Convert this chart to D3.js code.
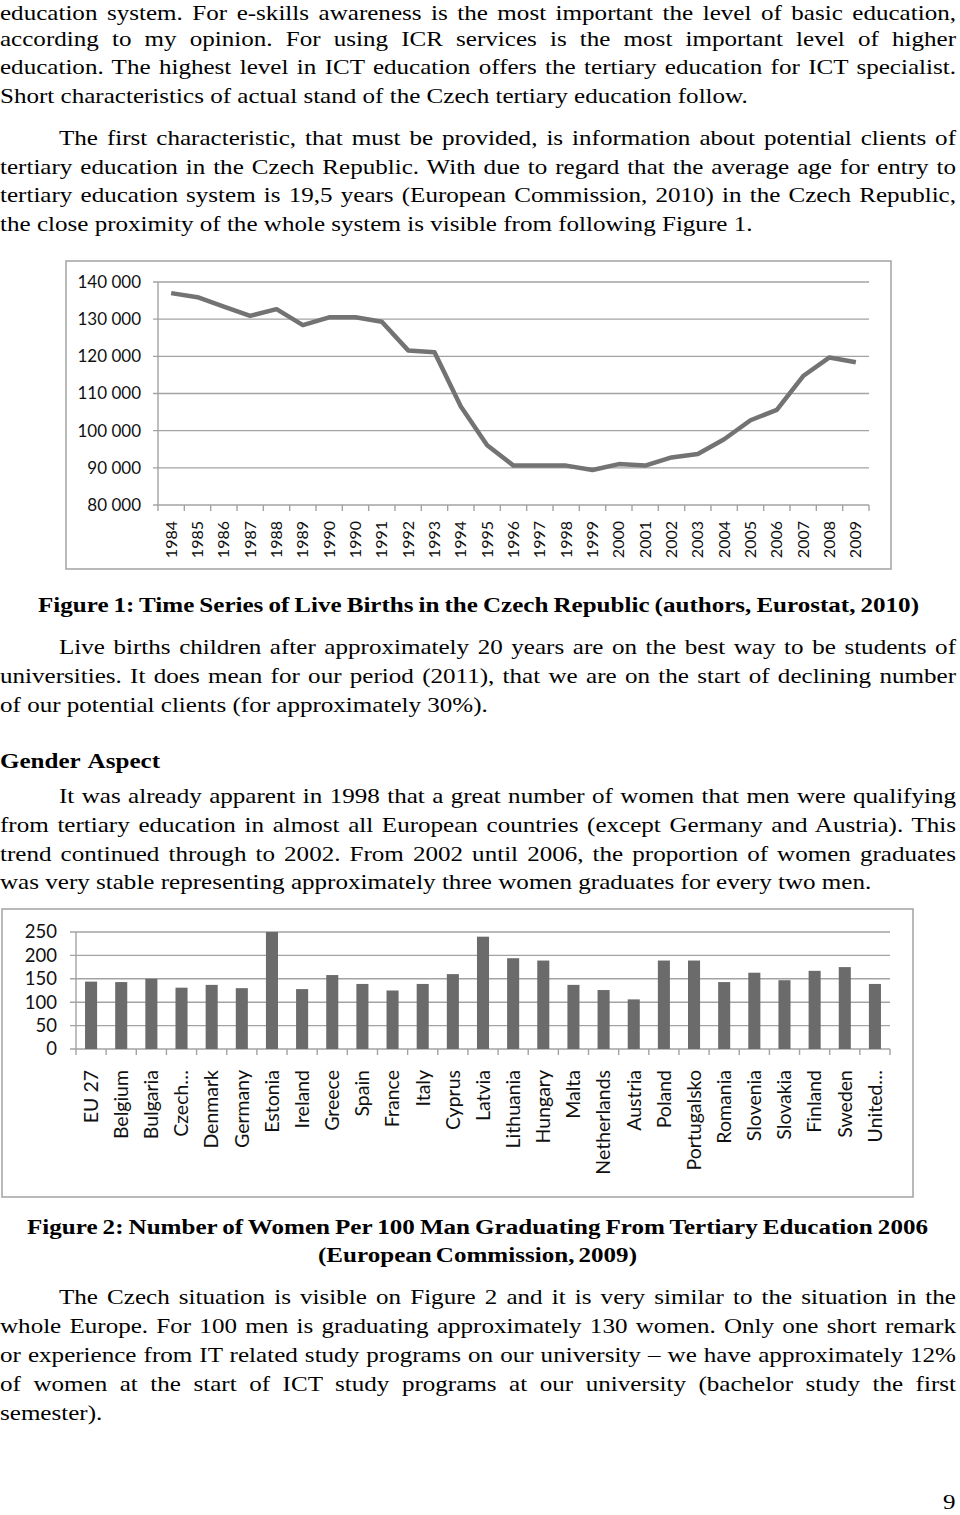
<!DOCTYPE html>
<html>
<head>
<meta charset="utf-8">
<script src="https://cdn.jsdelivr.net/npm/d3@7"></script>
<style>
html,body{margin:0;padding:0;background:#fff;}
svg{display:block;}
</style>
</head>
<body>
<script>
// ---------- DATA ----------
const years = ["1984","1985","1986","1987","1988","1989","1990","1990","1991","1992","1993","1994","1995","1996","1997","1998","1999","2000","2001","2002","2003","2004","2005","2006","2007","2008","2009"];
const births = [137000,135900,133400,130900,132700,128400,130500,130500,129300,121600,121100,106500,96100,90600,90600,90600,89400,91000,90600,92800,93700,97700,102800,105600,114700,119700,118400];
const birthTicks = [80000,90000,100000,110000,120000,130000,140000];

const countries = ["EU 27","Belgium","Bulgaria","Czech…","Denmark","Germany","Estonia","Ireland","Greece","Spain","France","Italy","Cyprus","Latvia","Lithuania","Hungary","Malta","Netherlands","Austria","Poland","Portugalsko","Romania","Slovenia","Slovakia","Finland","Sweden","United…"];
const women = [144,143,150,131,137,130,250,128,158,139,125,139,160,240,194,189,137,126,106,189,189,143,163,147,167,175,139];
const womenTicks = [0,50,100,150,200,250];

// ---------- PAGE ----------
const svg = d3.select("body").append("svg").attr("width",960).attr("height",1515);
svg.append("rect").attr("width",960).attr("height",1515).attr("fill","#fff");

// ---------- TEXT ----------
const FS = 22;
const lines = [
 {t:"education system. For e-skills awareness is the most important the level of basic education,", x0:0, x1:956, y:20},
 {t:"according to my opinion. For using ICR services is the most important level of higher", x0:0, x1:956, y:46},
 {t:"education. The highest level in ICT education offers the tertiary education for ICT specialist.", x0:0, x1:956, y:74},
 {t:"Short characteristics of actual stand of the Czech tertiary education follow.", x0:0, x1:null, y:102.5},
 {t:"The first characteristic, that must be provided, is information about potential clients of", x0:59, x1:956, y:144.5},
 {t:"tertiary education in the Czech Republic. With due to regard that the average age for entry to", x0:0, x1:956, y:173.5},
 {t:"tertiary education system is 19,5 years (European Commission, 2010) in the Czech Republic,", x0:0, x1:956, y:202},
 {t:"the close proximity of the whole system is visible from following Figure 1.", x0:0, x1:null, y:231},
 {t:"Figure 1: Time Series of Live Births in the Czech Republic (authors, Eurostat, 2010)", x0:38, x1:919, y:612, bold:true},
 {t:"Live births children after approximately 20 years are on the best way to be students of", x0:59, x1:956, y:654},
 {t:"universities. It does mean for our period (2011), that we are on the start of declining number", x0:0, x1:956, y:683},
 {t:"of our potential clients (for approximately 30%).", x0:0, x1:null, y:712},
 {t:"Gender Aspect", x0:0, x1:160, y:768, bold:true},
 {t:"It was already apparent in 1998 that a great number of women that men were qualifying", x0:59, x1:956, y:803},
 {t:"from tertiary education in almost all European countries (except Germany and Austria). This", x0:0, x1:956, y:832},
 {t:"trend continued through to 2002. From 2002 until 2006, the proportion of women graduates", x0:0, x1:956, y:861},
 {t:"was very stable representing approximately three women graduates for every two men.", x0:0, x1:null, y:889},
 {t:"Figure 2: Number of Women Per 100 Man Graduating From Tertiary Education 2006", x0:27, x1:928, y:1234, bold:true},
 {t:"(European Commission, 2009)", x0:318, x1:637, y:1262, bold:true},
 {t:"The Czech situation is visible on Figure 2 and it is very similar to the situation in the", x0:59, x1:956, y:1304},
 {t:"whole Europe. For 100 men is graduating approximately 130 women. Only one short remark", x0:0, x1:956, y:1333},
 {t:"or experience from IT related study programs on our university – we have approximately 12%", x0:0, x1:956, y:1362},
 {t:"of women at the start of ICT study programs at our university (bachelor study the first", x0:0, x1:956, y:1391},
 {t:"semester).", x0:0, x1:null, y:1420},
 {t:"9", x0:943, x1:null, y:1509}
];

const serifFam = '"Liberation Serif", "Times New Roman", serif';
const textG = svg.append("g")
  .style("font-family",serifFam).style("font-size",FS+"px").attr("fill","#000");
const probe = textG.append("text").text(lines[3].t);
const sx = 748 / probe.node().getComputedTextLength();
probe.remove();

lines.forEach(L => {
  const g = textG.append("g").attr("transform",`translate(${L.x0},${L.y}) scale(${sx},1)`);
  const t = g.append("text").text(L.t);
  if (L.bold) t.style("font-weight","bold");
  if (L.x1 != null) {
    const w = t.node().getComputedTextLength();
    const n = (L.t.match(/ /g) || []).length;
    const target = (L.x1 - L.x0) / sx;
    if (n > 0) t.style("word-spacing", ((target - w) / n).toFixed(3)+"px");
    else t.attr("textLength", target).attr("lengthAdjust","spacingAndGlyphs");
  }
});

// ---------- CHART 1: line ----------
const gridC = "#a3a3a3", frameC = "#a8a8a8";
const sansFam = "Lato, 'Open Sans', sans-serif";
const c1 = svg.append("g");
c1.append("rect").attr("x",66).attr("y",261).attr("width",825).attr("height",308)
  .attr("fill","#fff").attr("stroke",frameC).attr("stroke-width",1.6);

const x1 = d3.scaleBand().domain(d3.range(years.length)).range([158,869]);
const y1 = d3.scaleLinear().domain([80000,140000]).range([505,282]);
const fmt = d3.formatLocale({decimal:",",thousands:"\u00a0",grouping:[3],currency:["",""]}).format(",");

c1.selectAll("line.grid").data(birthTicks).join("line")
  .attr("x1",153).attr("x2",869).attr("y1",d=>y1(d)).attr("y2",d=>y1(d))
  .attr("stroke",gridC).attr("stroke-width",1.4);
c1.append("line").attr("x1",158).attr("x2",158).attr("y1",y1(140000)).attr("y2",y1(80000))
  .attr("stroke",gridC).attr("stroke-width",1.4);
const bounds1 = d3.range(years.length+1).map(i => i < years.length ? x1(i) : x1.range()[1]);
c1.selectAll("line.xt").data(bounds1).join("line")
  .attr("x1",d=>d).attr("x2",d=>d).attr("y1",505).attr("y2",511)
  .attr("stroke",gridC).attr("stroke-width",1.4);

c1.selectAll("text.yl").data(birthTicks).join("text")
  .attr("x",141).attr("y",d=>y1(d)).attr("dy","0.35em").attr("text-anchor","end")
  .style("font-family",sansFam).style("font-size","17px").attr("fill","#111")
  .text(d=>fmt(d));
c1.selectAll("text.xl").data(years).join("text")
  .attr("transform",(d,i)=>`translate(${x1(i)+x1.bandwidth()/2},521) rotate(-90)`)
  .attr("dy","0.35em").attr("text-anchor","end")
  .style("font-family",sansFam).style("font-size","16px").attr("fill","#111")
  .text(d=>d);

const line = d3.line().x((d,i)=>x1(i)+x1.bandwidth()/2).y(d=>y1(d));
c1.append("path").datum(births).attr("d",line).attr("fill","none")
  .attr("stroke","#737373").attr("stroke-width",4.5).attr("stroke-linejoin","round");

// ---------- CHART 2: bars ----------
const c2 = svg.append("g");
c2.append("rect").attr("x",2).attr("y",909).attr("width",911).attr("height",288)
  .attr("fill","#fff").attr("stroke",frameC).attr("stroke-width",1.6);
const x2 = d3.scaleBand().domain(countries).range([76,890]).paddingInner(0.6).paddingOuter(0.3);
const y2 = d3.scaleLinear().domain([0,250]).range([1049,932]);

c2.selectAll("line.grid").data(womenTicks).join("line")
  .attr("x1",70).attr("x2",890).attr("y1",d=>y2(d)).attr("y2",d=>y2(d))
  .attr("stroke",gridC).attr("stroke-width",1.4);
c2.append("line").attr("x1",76).attr("x2",76).attr("y1",y2(250)).attr("y2",y2(0))
  .attr("stroke",gridC).attr("stroke-width",1.4);
const step2 = x2.step();
const bounds2 = d3.range(countries.length+1).map(i => 76 + i*step2);
c2.selectAll("line.xt").data(bounds2).join("line")
  .attr("x1",d=>d).attr("x2",d=>d).attr("y1",1049).attr("y2",1055)
  .attr("stroke",gridC).attr("stroke-width",1.4);

c2.selectAll("rect.bar").data(women).join("rect")
  .attr("x",(d,i)=>x2(countries[i])).attr("width",x2.bandwidth())
  .attr("y",d=>y2(d)).attr("height",d=>y2(0)-y2(d))
  .attr("fill","#6b6b6b");

c2.selectAll("text.yl").data(womenTicks).join("text")
  .attr("x",57).attr("y",d=>y2(d)).attr("dy","0.35em").attr("text-anchor","end")
  .style("font-family",sansFam).style("font-size","18.5px").attr("fill","#111")
  .text(d=>d);
c2.selectAll("text.xl").data(countries).join("text")
  .attr("transform",d=>`translate(${x2(d)+x2.bandwidth()/2},1070) rotate(-90)`)
  .attr("dy","0.35em").attr("text-anchor","end")
  .style("font-family",sansFam).style("font-size","19.5px").attr("fill","#111")
  .text(d=>d);
</script>
</body>
</html>
